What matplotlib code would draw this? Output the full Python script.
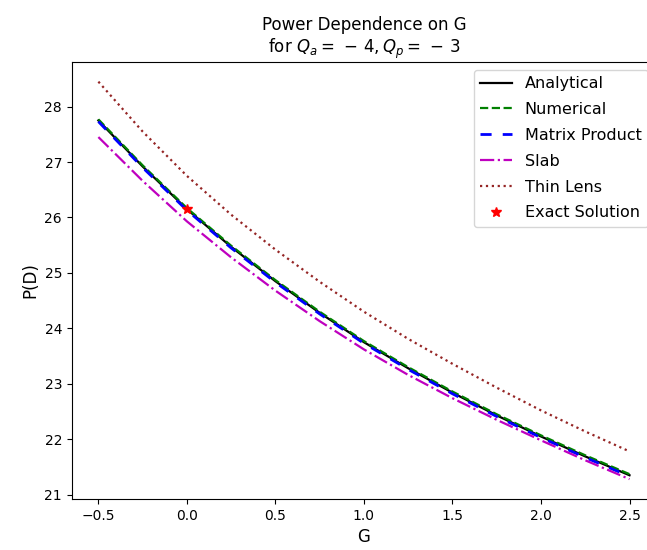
import matplotlib
matplotlib.use("Agg")
import matplotlib.pyplot as plt

G = [-0.5, -0.25, 0.0, 0.25, 0.5, 0.75, 1.0, 1.25, 1.5, 1.75, 2.0, 2.25, 2.5]
analytical = [27.75, 26.92, 26.15, 25.47, 24.85, 24.28, 23.75, 23.28, 22.84, 22.43, 22.05, 21.69, 21.35]
numerical = [27.77, 26.94, 26.17, 25.49, 24.87, 24.30, 23.77, 23.30, 22.86, 22.45, 22.07, 21.71, 21.37]
matrix_product = [27.73, 26.90, 26.13, 25.45, 24.83, 24.26, 23.73, 23.26, 22.82, 22.41, 22.03, 21.67, 21.33]
slab = [27.45, 26.66, 25.93, 25.28, 24.68, 24.13, 23.62, 23.16, 22.74, 22.35, 21.98, 21.62, 21.28]
thin_lens = [28.45, 27.55, 26.75, 26.05, 25.42, 24.84, 24.30, 23.81, 23.36, 22.93, 22.52, 22.14, 21.78]
exact_G = [0.0]
exact_P = [26.15]

fig = plt.figure(figsize=(6.47, 5.5), dpi=100)
ax = fig.add_axes([0.111, 0.0927, 0.903, 0.795])

ax.plot(G, analytical, 'k-', lw=1.6, label='Analytical')
ax.plot(G, numerical, 'g--', lw=1.6, label='Numerical')
ax.plot(G, matrix_product, color='b', ls=(0, (4, 4)), lw=2, label='Matrix Product')
ax.plot(G, slab, 'm-.', lw=1.6, label='Slab')
ax.plot(G, thin_lens, color='#952525', ls=':', lw=1.6, label='Thin Lens')
ax.plot(exact_G, exact_P, 'r*', ms=7, label='Exact Solution', ls='none')

ax.set_title('Power Dependence on G\n' + r'for $Q_a =\,-\,4, Q_p =\,-\,3$', fontsize=12)
ax.set_xlabel('G', fontsize=12)
ax.set_ylabel('P(D)', fontsize=12)
ax.legend(loc='upper right', fontsize=11.5, labelspacing=0.68)

fig.savefig('out.png', dpi=100)
